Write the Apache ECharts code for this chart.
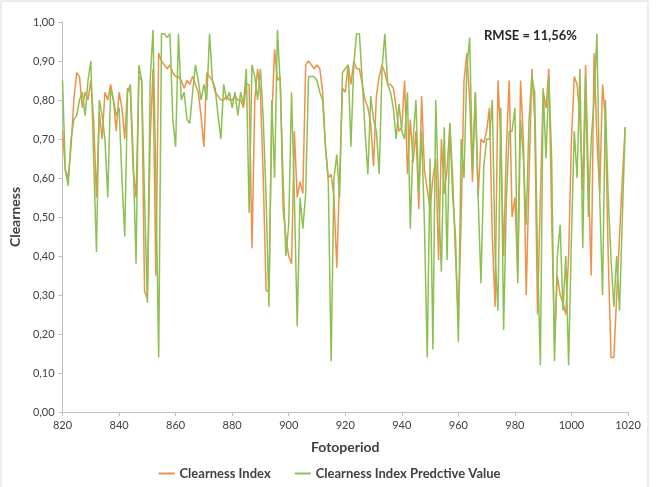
<!DOCTYPE html>
<html><head><meta charset="utf-8">
<script src="https://cdn.jsdelivr.net/npm/echarts@6/dist/echarts.min.js"></script>
<style>html,body{margin:0;padding:0;background:#fff}#c{width:659px;height:487px}</style>
</head><body><div id="c"></div>
<script>
const startPeriod = 820;
const clearnessIndex = [
.72,.62,.60,.68,.80,.87,.86,.78,.82,.80,
.85,.75,.55,.77,.70,.82,.80,.84,.80,.72,
.82,.78,.70,.83,.82,.62,.55,.86,.85,.31,
.29,.70,.88,.35,.92,.90,.89,.88,.89,.87,
.86,.86,.85,.83,.85,.84,.86,.84,.82,.76,
.68,.87,.86,.85,.82,.81,.80,.80,.81,.80,
.80,.81,.80,.80,.78,.84,.84,.42,.80,.88,
.82,.60,.31,.31,.75,.93,.85,.86,.52,.45,
.40,.38,.72,.55,.59,.56,.89,.90,.89,.88,
.89,.88,.82,.68,.60,.61,.55,.37,.60,.83,
.82,.89,.84,.90,.88,.88,.84,.80,.78,.74,
.63,.81,.86,.89,.87,.84,.84,.83,.78,.72,
.73,.85,.61,.75,.64,.72,.52,.81,.62,.57,
.52,.60,.65,.39,.70,.56,.62,.74,.60,.40,
.23,.50,.85,.92,.80,.59,.82,.55,.70,.69,
.72,.78,.45,.27,.85,.70,.40,.68,.85,.50,
.55,.35,.85,.70,.30,.60,.88,.75,.25,.55,
.82,.78,.88,.50,.18,.35,.30,.28,.25,.40,
.70,.86,.84,.75,.57,.89,.60,.35,.92,.70,
.56,.84,.75,.40,.14,.14,.30,.45,.60,.73
];
const predictiveValue = [
.85,.62,.58,.70,.75,.76,.80,.82,.76,.85,
.90,.65,.41,.80,.76,.70,.55,.83,.80,.76,
.78,.60,.45,.82,.84,.65,.38,.89,.85,.55,
.28,.85,.98,.60,.14,.97,.97,.96,.97,.75,
.68,.97,.80,.82,.75,.74,.82,.89,.85,.80,
.84,.80,.97,.85,.83,.76,.70,.84,.80,.82,
.78,.82,.76,.82,.79,.88,.51,.89,.86,.80,
.88,.75,.55,.27,.80,.60,.98,.84,.60,.40,
.48,.82,.55,.22,.55,.47,.56,.86,.86,.86,
.85,.82,.80,.68,.59,.13,.60,.66,.55,.87,
.88,.89,.68,.89,.97,.97,.85,.72,.61,.81,
.75,.72,.61,.88,.97,.84,.82,.78,.70,.79,
.72,.70,.82,.47,.70,.80,.56,.72,.48,.14,
.65,.16,.80,.55,.36,.73,.39,.74,.55,.45,
.18,.70,.60,.88,.96,.62,.82,.55,.33,.63,
.70,.70,.80,.40,.26,.78,.21,.55,.72,.72,
.78,.33,.75,.65,.48,.75,.86,.82,.40,.12,
.83,.65,.86,.65,.13,.40,.48,.26,.40,.12,
.45,.72,.60,.88,.42,.86,.50,.70,.80,.97,
.55,.30,.80,.55,.39,.27,.40,.26,.50,.73
];
const xTicks = {min: 820, max: 1020, step: 20};
const yTicks = {min: 0, max: 1, step: 0.1};
const rmseText = 'RMSE = 11,56%';

const toPairs = arr => arr.map((v, i) => [startPeriod + i, v]);
const font = 'Lato, "Open Sans", sans-serif';
const chart = echarts.init(document.getElementById('c'));
chart.setOption({
  animation: false,
  backgroundColor: '#fff',
  textStyle: {fontFamily: font},
  grid: {left: 57, right: 31, top: 22, bottom: 75},
  xAxis: {
    type: 'value', min: xTicks.min, max: xTicks.max, interval: xTicks.step,
    name: 'Fotoperiod', nameLocation: 'middle', nameGap: 28,
    nameTextStyle: {fontSize: 14, fontWeight: 'bold', color: '#404040', fontFamily: font},
    axisLine: {show: true, lineStyle: {color: '#bfbfbf'}},
    axisTick: {show: true, length: 4, lineStyle: {color: '#bfbfbf'}},
    axisLabel: {fontSize: 11, color: '#404040', margin: 8, formatter: v => String(v)},
    splitLine: {show: false}
  },
  yAxis: {
    type: 'value', min: yTicks.min, max: yTicks.max, interval: yTicks.step,
    name: 'Clearness', nameLocation: 'middle', nameGap: 36, nameRotate: 90,
    nameTextStyle: {fontSize: 14, fontWeight: 'bold', color: '#404040', fontFamily: font},
    axisLine: {show: true, lineStyle: {color: '#bfbfbf'}},
    axisTick: {show: true, length: 4, inside: false, lineStyle: {color: '#bfbfbf'}},
    axisLabel: {fontSize: 11, color: '#404040', margin: 8, formatter: v => v.toFixed(2).replace('.', ',')},
    splitLine: {show: false}
  },
  legend: {
    bottom: 2, left: 'center', itemWidth: 16, itemHeight: 2, itemGap: 24,
    icon: 'rect',
    textStyle: {fontSize: 13, fontWeight: 'bold', color: '#404040', fontFamily: font},
    data: ['Clearness Index', 'Clearness Index Predctive Value']
  },
  graphic: [
    {type: 'rect', shape: {x: 1, y: 1, width: 647, height: 500}, style: {fill: 'none', stroke: '#d9d9d9', lineWidth: 1}, silent: true},
    {type: 'text', left: 484, top: 29, style: {text: rmseText, font: 'bold 13px ' + font, fill: '#262626'}}
  ],
  series: [
    {name: 'Clearness Index', type: 'line', data: toPairs(clearnessIndex), showSymbol: false,
     lineStyle: {width: 1.5, color: '#F0904A'}, itemStyle: {color: '#F0904A'}, z: 2},
    {name: 'Clearness Index Predctive Value', type: 'line', data: toPairs(predictiveValue), showSymbol: false,
     lineStyle: {width: 1.5, color: '#8CC152'}, itemStyle: {color: '#8CC152'}, z: 3}
  ]
});
</script></body></html>
